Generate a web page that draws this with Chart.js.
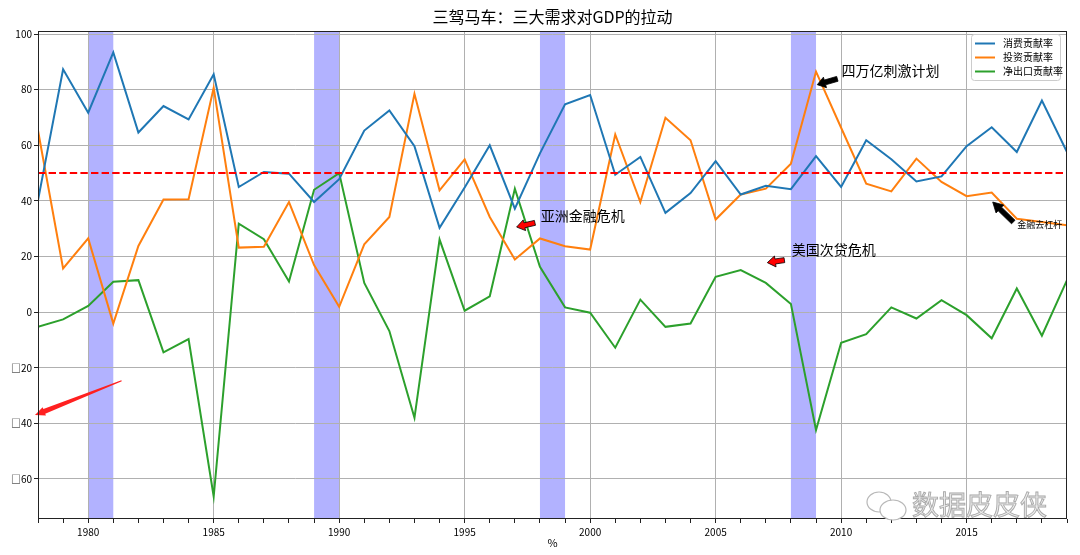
<!DOCTYPE html>
<html>
<head>
<meta charset="utf-8">
<script src="https://cdn.jsdelivr.net/npm/chart.js@4/dist/chart.umd.min.js"></script>
<style>
    html, body { margin: 0; padding: 0; background: #fff; }
    canvas { display: block; }
</style>
</head>
<body>
<canvas id="gdpChart" width="1080" height="555"></canvas>
<script>
// 1978 - 2019, contribution rates (%)
const years = [1978, 1979, 1980, 1981, 1982, 1983, 1984, 1985, 1986, 1987, 1988, 1989, 1990, 1991,
    1992, 1993, 1994, 1995, 1996, 1997, 1998, 1999, 2000, 2001, 2002, 2003, 2004, 2005,
    2006, 2007, 2008, 2009, 2010, 2011, 2012, 2013, 2014, 2015, 2016, 2017, 2018, 2019];
const consumption = [40.2, 87.3, 71.7, 93.4, 64.6, 74.1, 69.3, 85.5, 45.0, 50.4, 49.8, 39.6, 47.8, 65.3,
    72.5, 59.7, 30.3, 44.8, 60.0, 37.2, 57.1, 74.7, 78.1, 49.4, 55.8, 35.7, 42.8, 54.3,
    42.3, 45.4, 44.2, 56.1, 45.0, 61.8, 55.0, 47.0, 48.8, 59.7, 66.5, 57.6, 76.1, 57.6];
const investment = [65.3, 15.7, 26.5, -4.1, 23.8, 40.5, 40.6, 80.7, 23.2, 23.5, 39.6, 16.9, 1.9, 24.4,
    34.2, 78.5, 43.8, 54.9, 34.2, 18.9, 26.5, 23.7, 22.5, 63.9, 39.6, 69.9, 61.8, 33.3,
    42.3, 44.4, 53.4, 86.5, 66.3, 46.2, 43.4, 55.2, 46.8, 41.7, 43.0, 33.6, 32.4, 31.2];
const netExports = [-5.3, -2.6, 2.2, 10.9, 11.5, -14.5, -9.7, -66.3, 31.8, 26.2, 11.0, 44.0, 50.0, 10.5,
    -6.8, -38.0, 26.1, 0.5, 5.7, 44.4, 16.3, 1.7, -0.2, -12.8, 4.5, -5.3, -4.1, 12.7,
    15.1, 10.5, 2.9, -42.4, -11.0, -7.9, 1.7, -2.3, 4.3, -1.1, -9.4, 8.5, -8.5, 11.5];

const seriesNames = ['消费贡献率', '投资贡献率', '净出口贡献率'];
const seriesColors = ['#1f77b4', '#ff7f0e', '#2ca02c'];
const crisisSpans = [[1980, 1981], [1989, 1990], [1998, 1999], [2008, 2009]];
const refLevel = 50;
const xLimits = [1978, 2019];
const yLimits = [-74.4, 101.1];
const yTickValues = [-60, -40, -20, 0, 20, 40, 60, 80, 100];

// annotations, in data coordinates
const notes = [
    { text: '亚洲金融危机', at: [1998.03, 34.6], tail: [1997.80, 32.1], tip: [1997.07, 30.6], size: 14, fill: '#ff0000' },
    { text: '美国次贷危机', at: [2008.03, 22.3], tail: [2007.74, 18.7], tip: [2007.06, 17.8], size: 14, fill: '#ff0000' },
    { text: '四万亿刺激计划', at: [2010.02, 86.9], tail: [2009.85, 83.9], tip: [2009.05, 81.8], size: 14, fill: '#000000' },
    { text: '金融去杠杆', at: [2017.02, 31.5], tail: [2016.86, 32.4], tip: [2016.04, 39.6], size: 9, fill: '#000000' }
];
const strayArrow = { tail: [1981.33, -24.7], tip: [1977.88, -37.0] };

const FONT = '"Noto Sans CJK SC", "Noto Sans", sans-serif';

function arrowPath(ctx, x0, y0, x1, y1, shaftStart, shaftEnd, headW, headL) {
    const dx = x1 - x0, dy = y1 - y0;
    const len = Math.hypot(dx, dy);
    const ux = dx / len, uy = dy / len;
    const nx = -uy, ny = ux;
    const bx = x1 - ux * headL, by = y1 - uy * headL;
    ctx.beginPath();
    ctx.moveTo(x0 + nx * shaftStart / 2, y0 + ny * shaftStart / 2);
    ctx.lineTo(bx + nx * shaftEnd / 2, by + ny * shaftEnd / 2);
    ctx.lineTo(bx + nx * headW / 2, by + ny * headW / 2);
    ctx.lineTo(x1, y1);
    ctx.lineTo(bx - nx * headW / 2, by - ny * headW / 2);
    ctx.lineTo(bx - nx * shaftEnd / 2, by - ny * shaftEnd / 2);
    ctx.lineTo(x0 - nx * shaftStart / 2, y0 - ny * shaftStart / 2);
    ctx.closePath();
}

const decorPlugin = {
    id: 'decor',
    beforeDraw(chart) {
        const { ctx, chartArea: a, scales: { x } } = chart;
        ctx.save();
        ctx.fillStyle = '#ffffff';
        ctx.fillRect(0, 0, chart.width, chart.height);
        ctx.fillStyle = 'rgba(0, 0, 255, 0.3)';
        crisisSpans.forEach(([s, e]) => {
            const x0 = x.getPixelForValue(s), x1 = x.getPixelForValue(e);
            ctx.fillRect(x0, a.top, x1 - x0, a.bottom - a.top);
        });
        ctx.restore();
    },
    afterDatasetsDraw(chart) {
        const { ctx, chartArea: a, scales: { x, y } } = chart;
        ctx.save();

        // 50% reference line
        const yRef = y.getPixelForValue(refLevel);
        ctx.strokeStyle = '#ff0000';
        ctx.lineWidth = 2;
        ctx.setLineDash([7.4, 3.2]);
        ctx.beginPath();
        ctx.moveTo(a.left, yRef);
        ctx.lineTo(a.right, yRef);
        ctx.stroke();
        ctx.setLineDash([]);

        // annotations
        notes.forEach(n => {
            arrowPath(ctx,
                x.getPixelForValue(n.tail[0]), y.getPixelForValue(n.tail[1]),
                x.getPixelForValue(n.tip[0]), y.getPixelForValue(n.tip[1]),
                5, 5, 11, n.size > 10 ? 8 : 10);
            ctx.fillStyle = n.fill;
            ctx.fill();
            ctx.strokeStyle = '#000';
            ctx.lineWidth = 0.8;
            ctx.stroke();
            ctx.fillStyle = '#000';
            ctx.font = n.size + 'px ' + FONT;
            ctx.textAlign = 'left';
            ctx.textBaseline = 'middle';
            ctx.fillText(n.text, x.getPixelForValue(n.at[0]), y.getPixelForValue(n.at[1]));
        });

        // stray red arrow at left
        arrowPath(ctx,
            x.getPixelForValue(strayArrow.tail[0]), y.getPixelForValue(strayArrow.tail[1]),
            x.getPixelForValue(strayArrow.tip[0]), y.getPixelForValue(strayArrow.tip[1]),
            1.2, 5, 9, 10);
        ctx.fillStyle = '#ff2020';
        ctx.fill();

        // frame
        ctx.strokeStyle = '#222';
        ctx.lineWidth = 1;
        ctx.strokeRect(a.left + 0.5, a.top + 0.5, a.right - a.left - 1, a.bottom - a.top - 1);

        // legend
        const lx = a.right - 96, ly = a.top + 3, lw = 89, lh = 46;
        ctx.fillStyle = 'rgba(255,255,255,0.85)';
        ctx.strokeStyle = '#cccccc';
        ctx.lineWidth = 1;
        ctx.beginPath();
        ctx.roundRect(lx + 0.5, ly + 0.5, lw, lh, 3);
        ctx.fill();
        ctx.stroke();
        ctx.font = '10px ' + FONT;
        ctx.textAlign = 'left';
        ctx.textBaseline = 'middle';
        seriesNames.forEach((name, i) => {
            const yy = ly + 9.5 + i * 14;
            ctx.strokeStyle = seriesColors[i];
            ctx.lineWidth = 2;
            ctx.beginPath();
            ctx.moveTo(lx + 4, yy);
            ctx.lineTo(lx + 24, yy);
            ctx.stroke();
            ctx.fillStyle = '#000';
            ctx.fillText(name, lx + 32, yy);
        });

        // watermark
        const wx = a.right - 200, wy = a.bottom - 14;
        ctx.strokeStyle = '#b8b8b8';
        ctx.lineWidth = 1.2;
        ctx.beginPath();
        ctx.ellipse(wx + 12, wy - 3, 12, 10, 0, 0, Math.PI * 2);
        ctx.stroke();
        ctx.fillStyle = '#ffffff';
        ctx.beginPath();
        ctx.ellipse(wx + 26, wy + 5, 13, 10, 0, 0, Math.PI * 2);
        ctx.fill();
        ctx.stroke();
        ctx.font = '27px ' + FONT;
        ctx.textBaseline = 'middle';
        ctx.fillStyle = '#ececec';
        ctx.fillText('数据皮皮侠', wx + 45, wy);
        ctx.strokeStyle = '#a8a8a8';
        ctx.lineWidth = 0.9;
        ctx.strokeText('数据皮皮侠', wx + 45, wy);

        ctx.restore();
    },
    afterDraw(chart) {
        const { ctx, chartArea: a } = chart;
        const cx = (a.left + a.right) / 2;
        ctx.save();
        ctx.fillStyle = '#000';
        ctx.textAlign = 'center';
        ctx.textBaseline = 'middle';
        ctx.font = '16px ' + FONT;
        ctx.fillText('三驾马车：三大需求对GDP的拉动', cx, 17);
        ctx.font = '11px ' + FONT;
        ctx.fillText('%', cx, 543);
        ctx.restore();
    }
};

const datasets = [consumption, investment, netExports].map((values, i) => ({
    label: seriesNames[i],
    data: years.map((yr, j) => ({ x: yr, y: values[j] })),
    borderColor: seriesColors[i],
    backgroundColor: seriesColors[i],
    borderWidth: 2,
    pointRadius: 0,
    tension: 0,
    fill: false
}));

new Chart(document.getElementById('gdpChart'), {
    type: 'line',
    data: { datasets },
    options: {
        responsive: false,
        animation: false,
        layout: { padding: { left: 0, right: 13, top: 31, bottom: 0 } },
        plugins: {
            legend: { display: false },
            tooltip: { enabled: false },
            title: { display: false }
        },
        scales: {
            x: {
                type: 'linear',
                min: xLimits[0],
                max: xLimits[1],
                afterFit: s => { s.height = 36; },
                border: { display: false },
                grid: {
                    color: c => (c.tick && c.tick.value % 5 === 0) ? '#b0b0b0' : 'rgba(0,0,0,0)',
                    tickColor: '#222',
                    tickLength: 4,
                    lineWidth: 1
                },
                ticks: {
                    stepSize: 1,
                    autoSkip: false,
                    maxRotation: 0,
                    padding: 3,
                    color: '#000',
                    font: { family: FONT, size: 10 },
                    callback: v => (v % 5 === 0 ? String(v) : '')
                }
            },
            y: {
                min: yLimits[0],
                max: yLimits[1],
                afterFit: s => { s.width = 38; },
                afterBuildTicks: s => {
                    s.ticks = yTickValues.map(v => ({ value: v }));
                },
                border: { display: false },
                grid: {
                    color: '#b0b0b0',
                    tickColor: '#222',
                    tickLength: 4,
                    lineWidth: 1
                },
                ticks: {
                    padding: 2,
                    color: '#000',
                    font: { family: FONT, size: 10 },
                    callback: v => (v < 0 ? '□' + Math.abs(v) : String(v))
                }
            }
        }
    },
    plugins: [decorPlugin]
});
</script>
</body>
</html>
